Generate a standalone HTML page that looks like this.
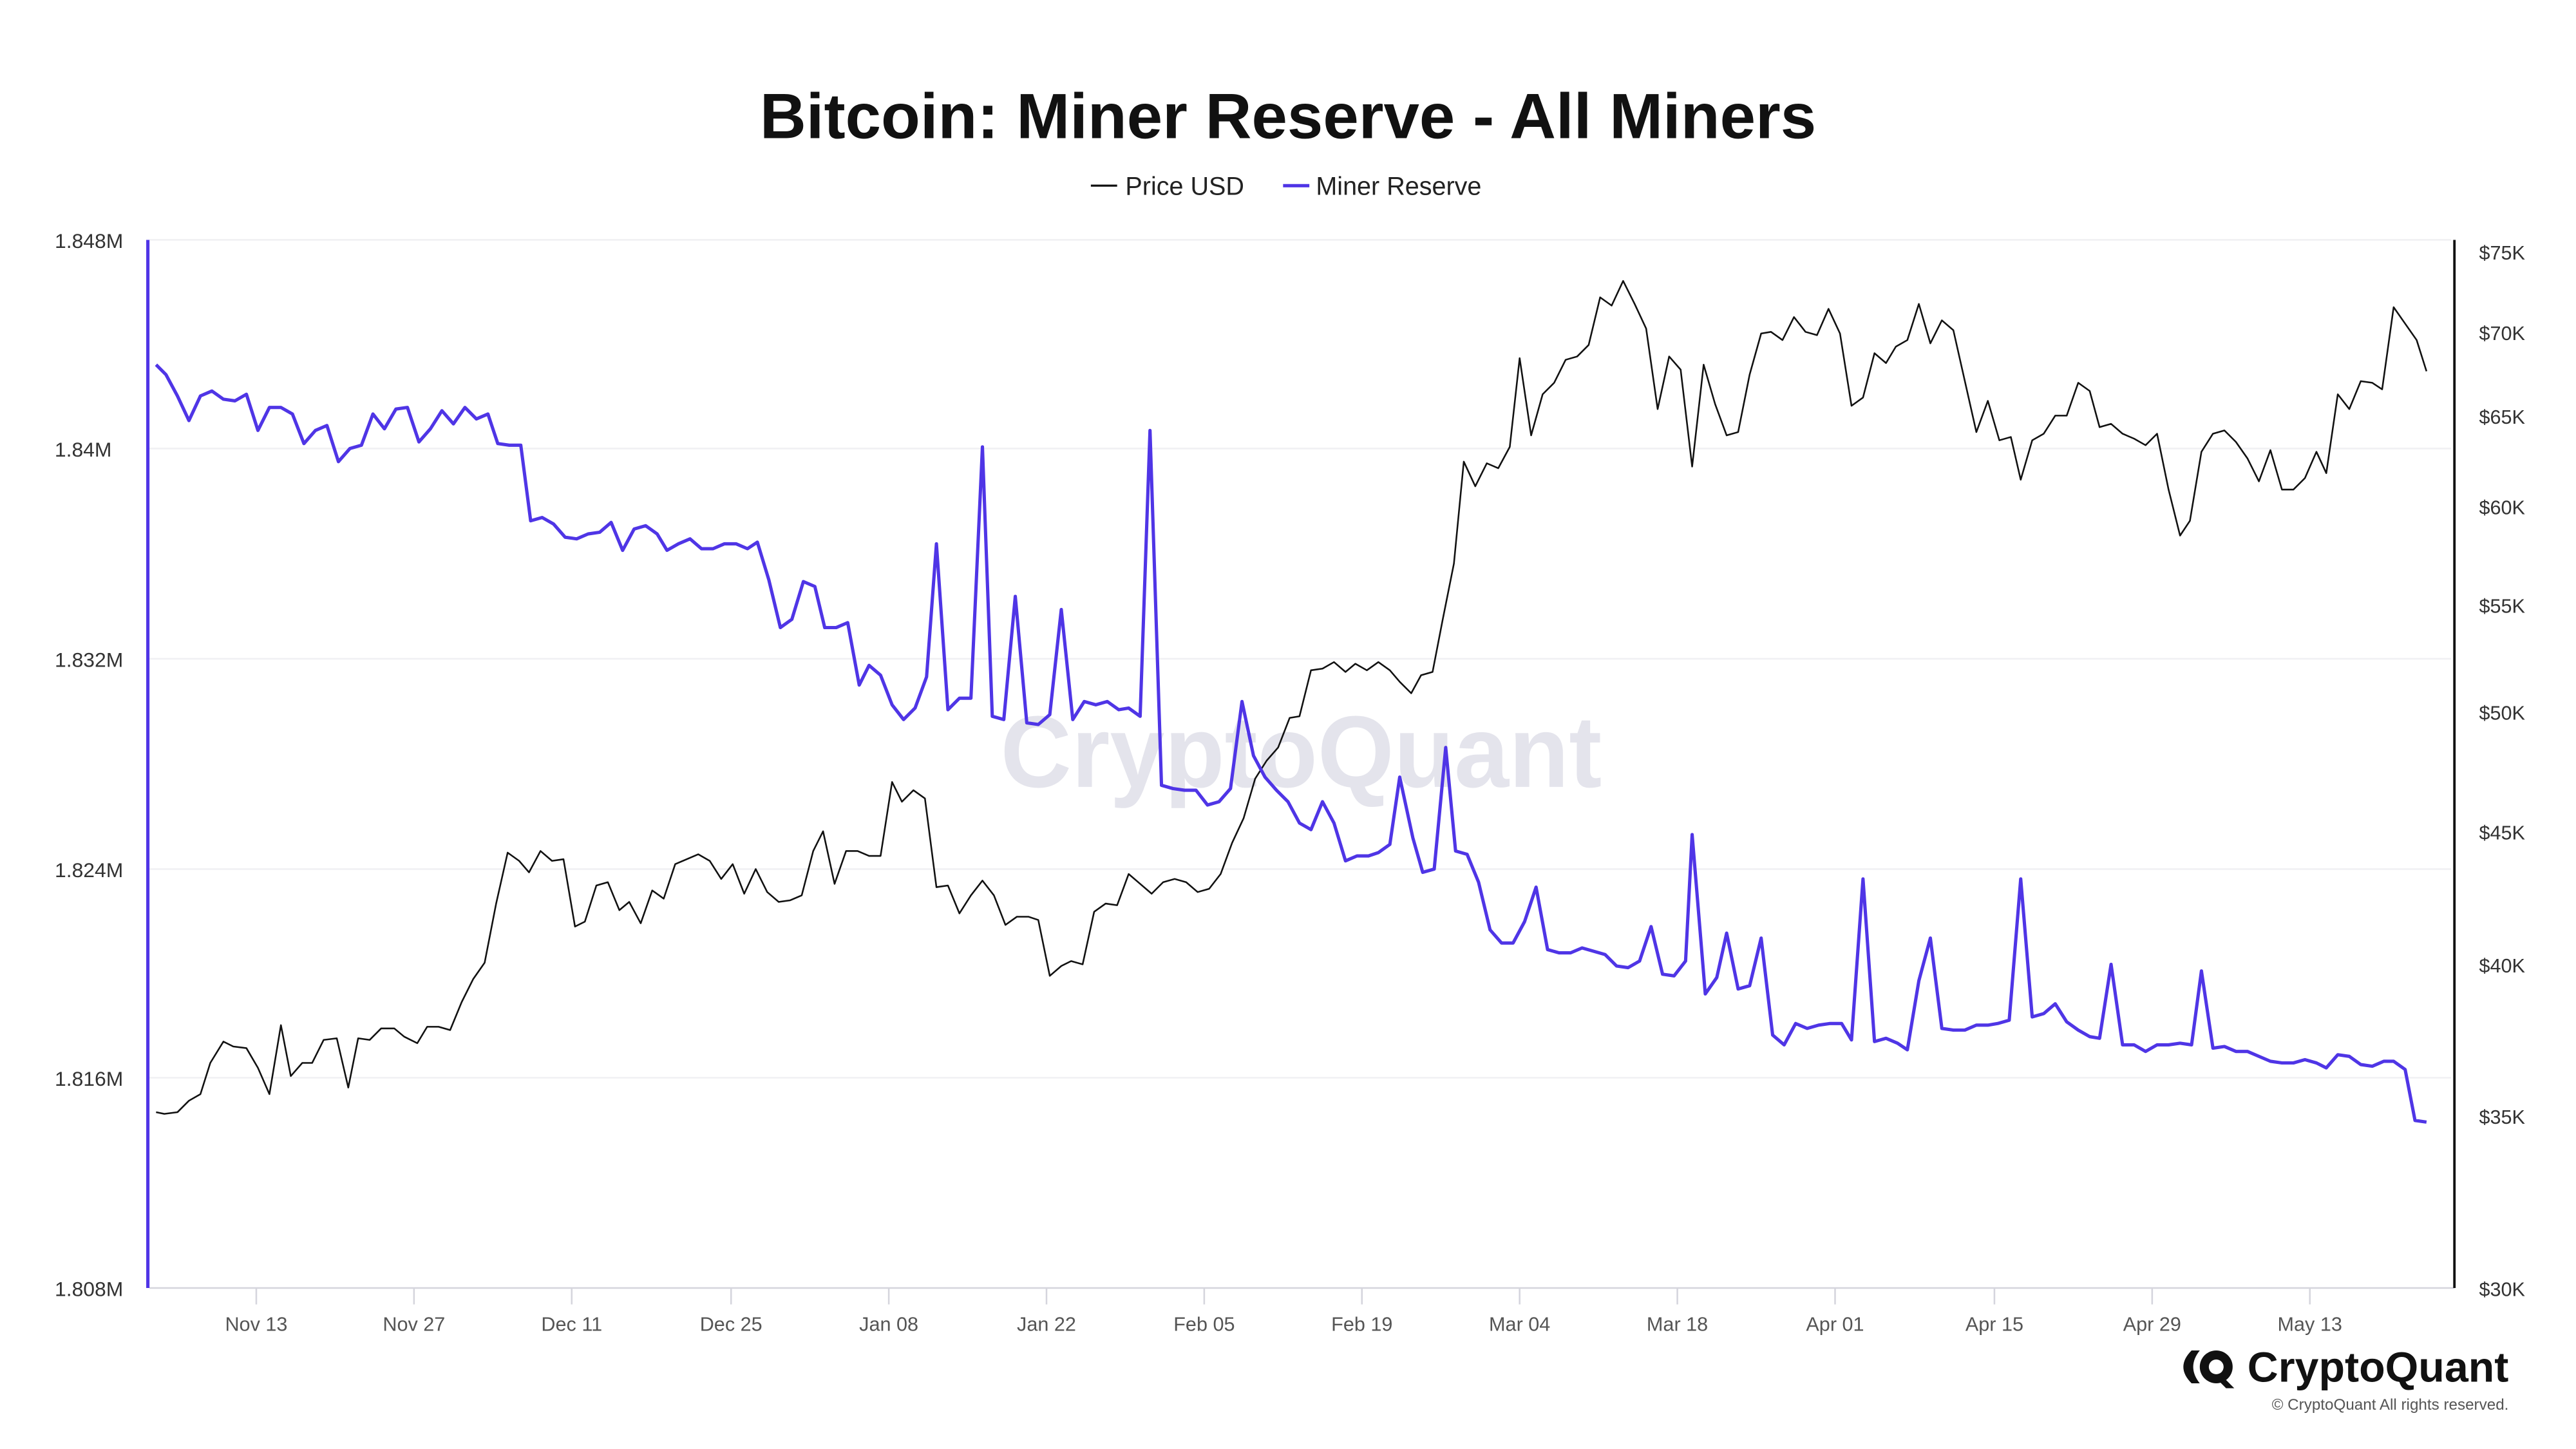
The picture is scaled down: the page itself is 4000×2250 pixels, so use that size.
<!DOCTYPE html>
<html><head><meta charset="utf-8">
<style>
html,body{margin:0;padding:0;background:#fff;}
svg{display:block;}
text{font-family:"Liberation Sans",sans-serif;}
</style></head>
<body>
<svg width="4000" height="2250" viewBox="0 0 1568 882" preserveAspectRatio="none" xmlns="http://www.w3.org/2000/svg">
<rect width="1568" height="882" fill="#fff"/>
<text x="784" y="84" text-anchor="middle" font-size="39" font-weight="bold" fill="#111" textLength="643" lengthAdjust="spacingAndGlyphs">Bitcoin: Miner Reserve - All Miners</text>
<line x1="664" y1="113" x2="680" y2="113" stroke="#111" stroke-width="1.3"/>
<text x="685" y="118.5" font-size="15.5" fill="#222">Price USD</text>
<line x1="781" y1="113" x2="797" y2="113" stroke="#4f35e6" stroke-width="2"/>
<text x="801" y="118.5" font-size="15.5" fill="#222">Miner Reserve</text>
<g stroke="#f0f0f3" stroke-width="1">
<line x1="91" y1="146" x2="1492" y2="146"/>
<line x1="91" y1="273" x2="1492" y2="273"/>
<line x1="91" y1="401" x2="1492" y2="401"/>
<line x1="91" y1="529" x2="1492" y2="529"/>
<line x1="91" y1="656" x2="1492" y2="656"/>
</g>
<line x1="91" y1="784" x2="1494" y2="784" stroke="#d5d5dd" stroke-width="1"/>
<g stroke="#d5d5dd" stroke-width="1">
<line x1="156" y1="784" x2="156" y2="794"/><line x1="252" y1="784" x2="252" y2="794"/><line x1="348" y1="784" x2="348" y2="794"/><line x1="445" y1="784" x2="445" y2="794"/><line x1="541" y1="784" x2="541" y2="794"/><line x1="637" y1="784" x2="637" y2="794"/><line x1="733" y1="784" x2="733" y2="794"/><line x1="829" y1="784" x2="829" y2="794"/><line x1="925" y1="784" x2="925" y2="794"/><line x1="1021" y1="784" x2="1021" y2="794"/><line x1="1117" y1="784" x2="1117" y2="794"/><line x1="1214" y1="784" x2="1214" y2="794"/><line x1="1310" y1="784" x2="1310" y2="794"/><line x1="1406" y1="784" x2="1406" y2="794"/>
</g>
<g font-size="12" fill="#555" text-anchor="middle">
<text x="156" y="810">Nov 13</text><text x="252" y="810">Nov 27</text><text x="348" y="810">Dec 11</text><text x="445" y="810">Dec 25</text><text x="541" y="810">Jan 08</text><text x="637" y="810">Jan 22</text><text x="733" y="810">Feb 05</text><text x="829" y="810">Feb 19</text><text x="925" y="810">Mar 04</text><text x="1021" y="810">Mar 18</text><text x="1117" y="810">Apr 01</text><text x="1214" y="810">Apr 15</text><text x="1310" y="810">Apr 29</text><text x="1406" y="810">May 13</text>
</g>
<g font-size="12.5" fill="#333" text-anchor="end">
<text x="75" y="151">1.848M</text><text x="68" y="278">1.84M</text><text x="75" y="406">1.832M</text><text x="75" y="534">1.824M</text><text x="75" y="661">1.816M</text><text x="75" y="789">1.808M</text>
</g>
<g font-size="12" fill="#333">
<text x="1509" y="158">$75K</text><text x="1509" y="207">$70K</text><text x="1509" y="258">$65K</text><text x="1509" y="313">$60K</text><text x="1509" y="373">$55K</text><text x="1509" y="438">$50K</text><text x="1509" y="511">$45K</text><text x="1509" y="592">$40K</text><text x="1509" y="684">$35K</text><text x="1509" y="789">$30K</text>
</g>
<line x1="90" y1="146" x2="90" y2="784" stroke="#4f35e6" stroke-width="2"/>
<line x1="1494" y1="146" x2="1494" y2="784" stroke="#111" stroke-width="1.5"/>
<text x="792" y="479" text-anchor="middle" font-size="62" font-weight="bold" fill="#dcdce6" opacity="0.75" textLength="366" lengthAdjust="spacingAndGlyphs">CryptoQuant</text>
<polyline fill="none" stroke="#111" stroke-width="1" stroke-linejoin="round" points="95,677 100,678 108,677 115,670 122,666 128,647 136,634 142,637 150,638 157,650 164,666 171,624 177,655 184,647 190,647 197,633 205,632 212,662 218,632 225,633 232,626 240,626 246,631 254,635 260,625 267,625 274,627 281,610 288,596 295,586 302,550 309,519 316,524 322,531 329,518 336,524 343,523 350,564 356,561 363,539 370,537 377,554 383,549 390,562 397,542 404,547 411,526 418,523 425,520 432,524 439,535 446,526 453,544 460,529 467,543 474,549 481,548 488,545 495,518 501,506 508,538 515,518 522,518 529,521 536,521 543,476 549,488 556,481 563,486 570,540 577,539 584,556 591,545 598,536 605,545 612,563 619,558 626,558 632,560 639,594 646,588 652,585 659,587 666,555 673,550 680,551 687,532 694,538 701,544 708,537 715,535 722,537 729,543 736,541 743,532 750,513 757,498 764,474 771,463 778,455 785,437 791,436 798,408 805,407 812,403 819,409 825,404 832,408 839,403 846,408 852,415 859,422 865,411 872,409 878,378 885,343 891,281 898,296 905,282 912,285 919,272 925,218 932,265 939,240 946,233 953,219 960,217 967,210 974,181 981,186 988,171 995,185 1002,200 1009,249 1016,217 1023,225 1030,284 1037,222 1044,246 1051,265 1058,263 1065,228 1072,203 1078,202 1085,207 1092,193 1099,202 1106,204 1113,188 1120,203 1127,247 1134,242 1141,215 1148,221 1154,211 1161,207 1168,185 1175,209 1182,195 1189,201 1196,232 1203,263 1210,244 1217,268 1224,266 1230,292 1237,268 1244,264 1251,253 1258,253 1265,233 1272,238 1278,260 1285,258 1292,264 1299,267 1306,271 1313,264 1320,298 1327,326 1333,317 1340,275 1347,264 1354,262 1361,269 1368,279 1375,293 1382,274 1389,298 1396,298 1403,291 1410,275 1416,288 1423,240 1430,249 1437,232 1444,233 1450,237 1457,187 1464,197 1471,207 1477,226"/>
<polyline fill="none" stroke="#4f35e6" stroke-width="2" stroke-linejoin="round" points="95,222 101,228 108,241 115,256 122,241 129,238 136,243 143,244 150,240 157,262 164,248 171,248 178,252 185,270 192,262 199,259 206,281 213,273 220,271 227,252 234,261 241,249 248,248 255,269 262,261 269,250 276,258 283,248 290,255 297,252 303,270 310,271 317,271 323,317 330,315 337,319 344,327 351,328 358,325 365,324 372,318 379,335 386,322 393,320 400,325 406,335 413,331 420,328 427,334 434,334 441,331 448,331 455,334 461,330 468,353 475,382 482,377 489,354 496,357 502,382 509,382 516,379 523,417 529,405 536,411 543,429 550,438 557,431 564,412 570,331 577,432 584,425 591,425 598,272 604,436 611,438 618,363 625,440 632,441 639,435 646,371 653,438 660,427 667,429 674,427 681,432 687,431 694,436 700,262 707,478 714,480 721,481 728,481 735,490 742,488 749,480 756,427 763,460 770,473 777,481 784,488 791,501 798,505 805,488 812,501 819,524 826,521 833,521 839,519 846,514 852,473 860,510 866,531 873,529 880,455 886,518 893,520 900,537 907,566 914,574 921,574 928,561 935,540 942,578 949,580 956,580 963,577 970,579 977,581 984,588 991,589 998,585 1005,564 1012,593 1019,594 1026,585 1030,508 1038,605 1045,595 1051,568 1058,602 1065,600 1072,571 1079,630 1086,636 1093,623 1100,626 1107,624 1114,623 1121,623 1127,633 1134,535 1141,634 1148,632 1155,635 1161,639 1168,597 1175,571 1182,626 1189,627 1196,627 1203,624 1210,624 1216,623 1223,621 1230,535 1237,619 1244,617 1251,611 1258,622 1265,627 1272,631 1278,632 1285,587 1292,636 1299,636 1306,640 1313,636 1320,636 1327,635 1334,636 1340,591 1347,638 1354,637 1361,640 1368,640 1375,643 1382,646 1389,647 1396,647 1403,645 1410,647 1416,650 1423,642 1430,643 1437,648 1444,649 1451,646 1457,646 1464,651 1470,682 1477,683"/>
<g fill="#111">
<circle cx="1349" cy="832" r="10"/>
<circle cx="1349" cy="832" r="4.5" fill="#fff"/>
<path d="M1334 822 Q1324 832 1334 842 L1339 842 Q1331 832 1339 822 Z"/>
<path d="M1353 838 L1360 845 L1355 845 L1349 839 Z"/>
</g>
<text x="1368" y="841" font-size="26" fill="#111" font-weight="bold" textLength="159" lengthAdjust="spacingAndGlyphs">CryptoQuant</text>
<text x="1527" y="858" text-anchor="end" font-size="9.5" fill="#555">© CryptoQuant All rights reserved.</text>
</svg>
</body></html>
